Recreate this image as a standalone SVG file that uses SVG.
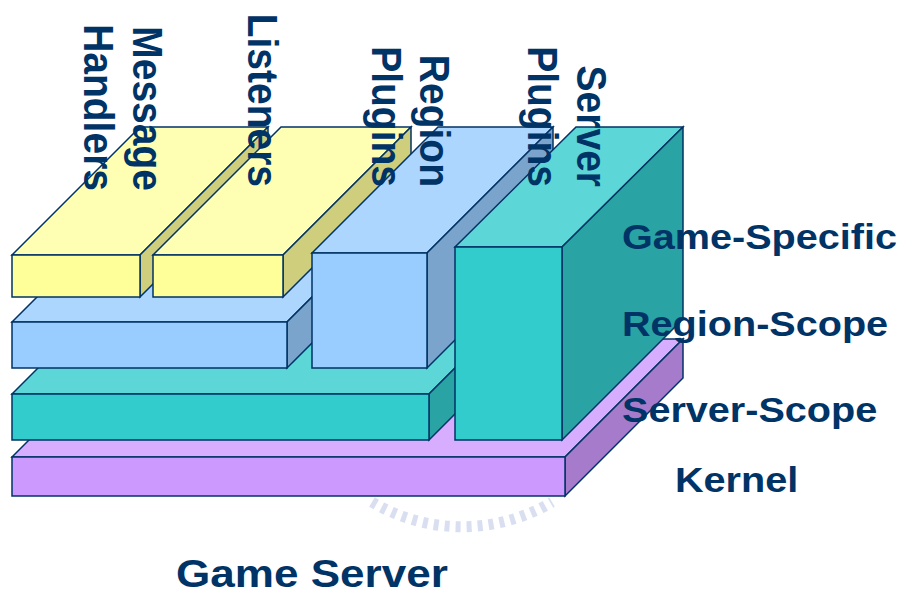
<svg xmlns="http://www.w3.org/2000/svg" width="904" height="596" viewBox="0 0 904 596">
  <style>
    .edge { stroke: #003366; stroke-width: 1.5; stroke-linejoin: miter; }
    .y-top { fill: #FFFFB3; } .y-front { fill: #FFFF99; } .y-side { fill: #CFCE7D; }
    .b-top { fill: #ADD6FF; } .b-front { fill: #99CCFF; } .b-side { fill: #7BA4CC; }
    .t-top { fill: #5CD6D6; } .t-front { fill: #33CCCC; } .t-side { fill: #29A3A3; }
    .p-top { fill: #D6ADFF; } .p-front { fill: #CC99FF; } .p-side { fill: #A77BCC; }
    .label { font-family: "Liberation Sans", Arial, sans-serif; font-weight: bold; fill: #003366; }
    .v { font-size: 39px; }
    .h { font-size: 36px; }
    .title { font-size: 39px; }
  </style>

  <!-- faint seal mark partly hidden under the kernel slab -->
  <path d="M 372 502 A 176 176 0 0 0 552 502" fill="none" stroke="#9FAEDD" stroke-opacity="0.4" stroke-width="11" stroke-dasharray="5 6"/>

  <!-- Kernel slab -->
  <g id="kernel">
    <polygon class="p-top edge" points="12,457 565,457 683,339 130,339"/>
    <polygon class="p-side edge" points="565,457 683,339 683,378 565,496"/>
    <rect class="p-front edge" x="12" y="457" width="553" height="39"/>
  </g>

  <!-- Server-scope slab -->
  <g id="server-scope">
    <polygon class="t-top edge" points="12,394 429,394 547,276 130,276"/>
    <polygon class="t-side edge" points="429,394 547,276 547,322 429,440"/>
    <rect class="t-front edge" x="12" y="394" width="417" height="46"/>
  </g>

  <!-- Region-scope slab -->
  <g id="region-scope">
    <polygon class="b-top edge" points="12,322 287,322 405,204 130,204"/>
    <polygon class="b-side edge" points="287,322 405,204 405,250 287,368"/>
    <rect class="b-front edge" x="12" y="322" width="275" height="46"/>
  </g>

  <!-- Message handlers block -->
  <g id="message-handlers">
    <polygon class="y-top edge" points="12,255 140,255 268,127 140,127"/>
    <polygon class="y-side edge" points="140,255 268,127 268,169 140,297"/>
    <rect class="y-front edge" x="12" y="255" width="128" height="42"/>
  </g>

  <!-- Listeners block -->
  <g id="listeners">
    <polygon class="y-top edge" points="153,255 283,255 411,127 281,127"/>
    <polygon class="y-side edge" points="283,255 411,127 411,169 283,297"/>
    <rect class="y-front edge" x="153" y="255" width="130" height="42"/>
  </g>

  <!-- Region plugins block -->
  <g id="region-plugins">
    <polygon class="b-top edge" points="312,253 427,253 553,127 438,127"/>
    <polygon class="b-side edge" points="427,253 553,127 553,242 427,368"/>
    <rect class="b-front edge" x="312" y="253" width="115" height="115"/>
  </g>

  <!-- Server plugins block -->
  <g id="server-plugins">
    <polygon class="t-top edge" points="455,247 562,247 683,127 576,127"/>
    <polygon class="t-side edge" points="562,247 683,127 683,319 562,440"/>
    <rect class="t-front edge" x="455" y="247" width="107" height="193"/>
  </g>

  <!-- Labels -->
  <g id="labels" class="label">
    <text class="v" text-anchor="end" transform="translate(84,191) scale(1.1,1) rotate(90)">Handlers</text>
    <text class="v" text-anchor="end" transform="translate(133,191) scale(1.1,1) rotate(90)">Message</text>
    <text class="v" text-anchor="end" transform="translate(248,187) scale(1.1,1) rotate(90)">Listeners</text>
    <text class="v" text-anchor="end" transform="translate(372,187) scale(1.1,1) rotate(90)">Plugins</text>
    <text class="v" text-anchor="end" transform="translate(420,187) scale(1.1,1) rotate(90)">Region</text>
    <text class="v" text-anchor="end" transform="translate(528,187) scale(1.1,1) rotate(90)">Plugins</text>
    <text class="v" text-anchor="end" transform="translate(577,187) scale(1.1,1) rotate(90)">Server</text>

    <text class="h" transform="translate(622,249) scale(1.1,1)">Game-Specific</text>
    <text class="h" transform="translate(622,336) scale(1.1,1)">Region-Scope</text>
    <text class="h" transform="translate(622,422) scale(1.1,1)">Server-Scope</text>
    <text class="h" transform="translate(675,492) scale(1.1,1)">Kernel</text>

    <text class="title" transform="translate(176,587) scale(1.13,1)">Game Server</text>
  </g>
</svg>
